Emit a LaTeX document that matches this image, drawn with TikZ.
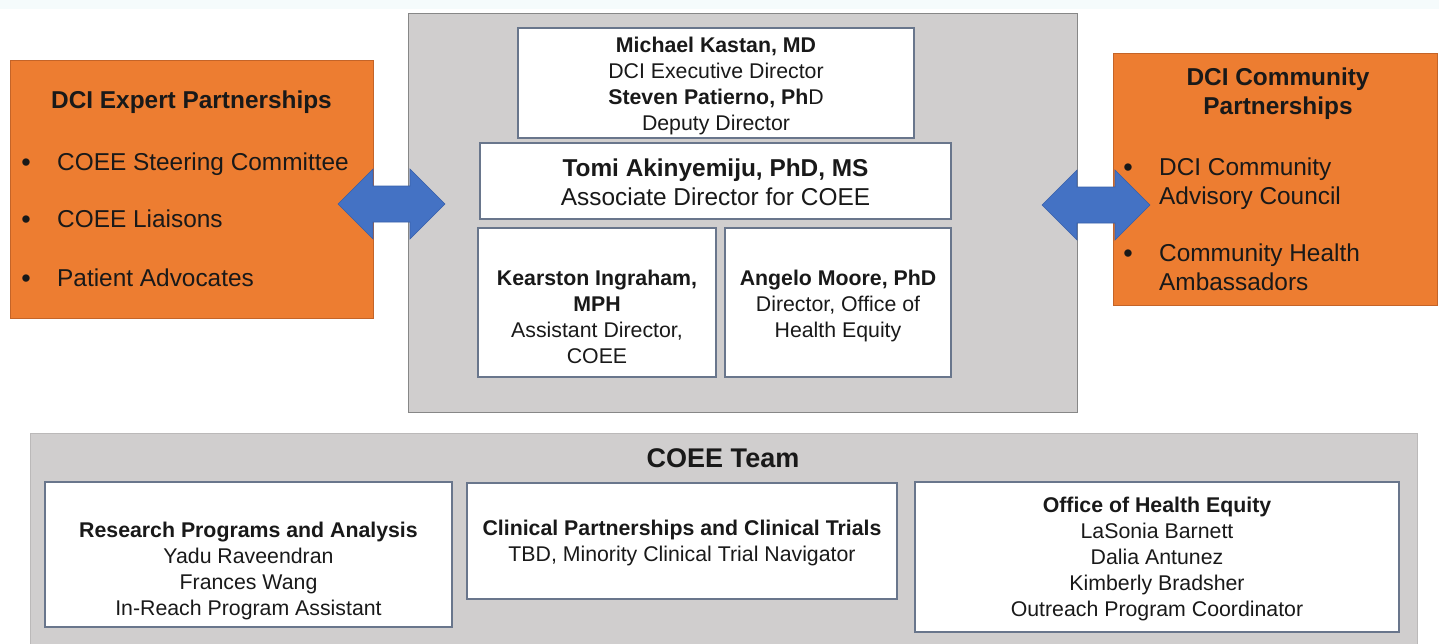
\documentclass[tikz,border=0pt]{standalone}
\usepackage{fontspec}
\setmainfont{Liberation Sans}
\definecolor{graybg}{RGB}{208,206,206}
\definecolor{grayedge}{RGB}{135,135,135}
\definecolor{boxedge}{RGB}{105,118,140}
\definecolor{orangefill}{RGB}{237,125,49}
\definecolor{orangeedge}{RGB}{196,100,40}
\definecolor{arrowblue}{RGB}{68,114,196}
\definecolor{arrowedge}{RGB}{55,95,170}
\definecolor{topstrip}{RGB}{245,251,252}
\definecolor{ink}{RGB}{25,25,25}
\begin{document}
\begin{tikzpicture}[x=1pt,y=-1pt,
  graybox/.style={draw=grayedge, line width=1pt, fill=graybg, inner sep=0pt},
  lowgray/.style={draw=graybg!90!black, line width=0.6pt, fill=graybg, inner sep=0pt},
  wbox/.style={draw=boxedge, line width=1.3pt, fill=white, inner sep=0pt},
  obox/.style={draw=orangeedge, line width=0.8pt, fill=orangefill, inner sep=0pt},
  blockarrow/.style={draw=arrowedge, line width=0.6pt, fill=arrowblue},
  txt/.style={align=center, inner sep=0pt, text=ink, font=\fontsize{21.3}{26}\selectfont},
  bigtxt/.style={align=center, inner sep=0pt, text=ink, font=\fontsize{24.4}{29}\selectfont},
  itemtxt/.style={anchor=base west, inner sep=0pt, text=ink, font=\fontsize{24.4}{29}\selectfont},
  bul/.style={anchor=base, inner sep=0pt, text=ink, font=\fontsize{27}{29}\selectfont},
  headtxt/.style={inner sep=0pt, text=ink, font=\fontsize{27}{32}\selectfont\bfseries}]
\useasboundingbox (0,0) rectangle (1439,643);
\fill[topstrip] (0,0) rectangle (1439,9);

% gray containers
\node[graybox, minimum width=669pt, minimum height=399pt] (center) at (742.5,212.5) {};
\node[lowgray, minimum width=1387pt, minimum height=220pt] (team) at (723.5,543) {};

% orange partnership boxes
\node[obox, minimum width=363pt, minimum height=258pt] (expert) at (191.5,189) {};
\node[obox, minimum width=324pt, minimum height=252pt] (community) at (1275,179) {};

% white leadership boxes
\node[wbox, minimum width=396pt, minimum height=110pt] (kastan) at (716,83) {};
\node[wbox, minimum width=471pt, minimum height=76pt] (tomi) at (715.5,181) {};
\node[wbox, minimum width=238pt, minimum height=149pt] (kearston) at (597,302.5) {};
\node[wbox, minimum width=226pt, minimum height=149pt] (angelo) at (838,302.5) {};

% team boxes
\node[wbox, minimum width=407pt, minimum height=145pt] (research) at (248.5,554.5) {};
\node[wbox, minimum width=430pt, minimum height=116pt] (clinical) at (682,541) {};
\node[wbox, minimum width=484pt, minimum height=150pt] (office) at (1157,557) {};

% block arrows
\path[blockarrow] (338,204) -- (373,169) -- (373,186) -- (410,186) -- (410,169) -- (445,204)
  -- (410,239) -- (410,222) -- (373,222) -- (373,239) -- cycle;
\path[blockarrow] (1042,205) -- (1077,170) -- (1077,187) -- (1115,187) -- (1115,170) -- (1150,205)
  -- (1115,240) -- (1115,223) -- (1077,223) -- (1077,240) -- cycle;

% texts: leadership
\node[txt] (kastanT) at (716,86) {\textbf{Michael Kastan, MD}\\DCI Executive Director\\\textbf{Steven Patierno, Ph}D\\Deputy Director};
\node[bigtxt] (tomiT) at (715.5,182) {\textbf{Tomi Akinyemiju, PhD, MS}\\Associate Director for COEE};
\node[txt] (kearstonT) at (597,317) {\textbf{Kearston Ingraham,}\\\textbf{MPH}\\Assistant Director,\\COEE};
\node[txt] (angeloT) at (838,306) {\textbf{Angelo Moore, PhD}\\Director, Office of\\Health Equity};

% texts: expert partnerships
\node[bigtxt, font=\fontsize{24.4}{29}\selectfont\bfseries] (expertT) at (191.5,102) {DCI Expert Partnerships};
\node[bul] (eb1) at (26,171.5) {\textbullet};
\node[itemtxt] (ei1) at (57,170.5) {COEE Steering Committee};
\node[bul] (eb2) at (26,228.5) {\textbullet};
\node[itemtxt] (ei2) at (57,227.5) {COEE Liaisons};
\node[bul] (eb3) at (26,287.5) {\textbullet};
\node[itemtxt] (ei3) at (57,286.5) {Patient Advocates};

% texts: community partnerships
\node[bigtxt, font=\fontsize{24.4}{29}\selectfont\bfseries] (communityT) at (1278,94) {DCI Community\\Partnerships};
\node[bul] (cb1) at (1128,176.5) {\textbullet};
\node[itemtxt] (ci1) at (1159,175.5) {DCI Community};
\node[itemtxt] (ci1b) at (1159,204.5) {Advisory Council};
\node[bul] (cb2) at (1128,262.5) {\textbullet};
\node[itemtxt] (ci2) at (1159,261.5) {Community Health};
\node[itemtxt] (ci2b) at (1159,290.5) {Ambassadors};

% texts: team
\node[headtxt] (teamT) at (723,458) {COEE Team};
\node[txt] (researchT) at (248.5,571) {\textbf{Research Programs and Analysis}\\Yadu Raveendran\\Frances Wang\\In-Reach Program Assistant};
\node[txt] (clinicalT) at (682,543) {\textbf{Clinical Partnerships and Clinical Trials}\\TBD, Minority Clinical Trial Navigator};
\node[txt] (officeT) at (1157,559) {\textbf{Office of Health Equity}\\LaSonia Barnett\\Dalia Antunez\\Kimberly Bradsher\\Outreach Program Coordinator};
\end{tikzpicture}
\end{document}
